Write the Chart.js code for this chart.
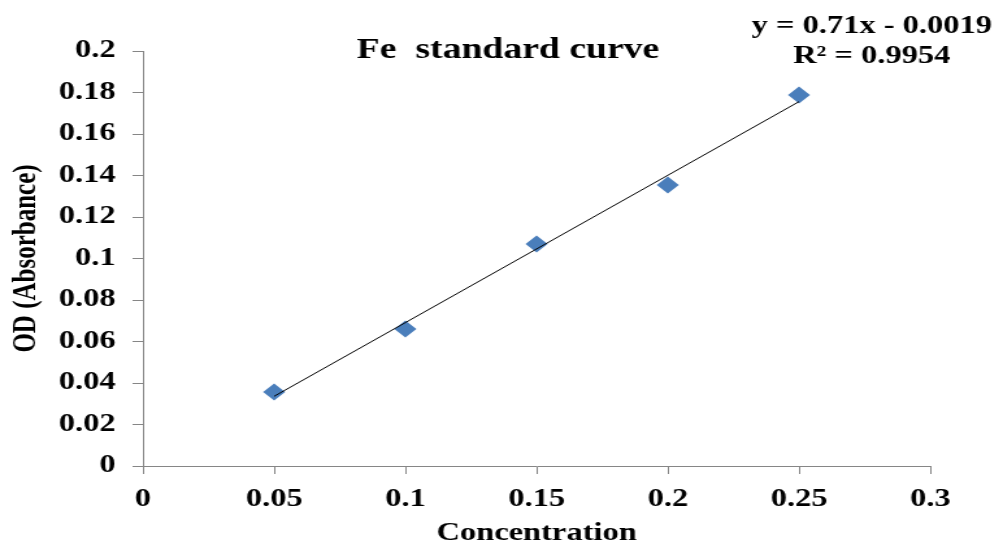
<!DOCTYPE html>
<html>
<head>
<meta charset="utf-8">
<script src="https://cdn.jsdelivr.net/npm/chart.js@4/dist/chart.umd.min.js"></script>
<style>
    html, body { margin: 0; padding: 0; background: #fff; overflow: hidden; }
    /* the original picture is stretched sideways, so draw narrow and widen it */
    #wrap { position: absolute; left: 0; top: 0; width: 772px; height: 545px; transform: scaleX(1.2992); transform-origin: 0 0; }
</style>
</head>
<body>
<div id="wrap"><canvas id="feChart"></canvas></div>
<script>
// Data
const concentration = [0.05, 0.1, 0.15, 0.2, 0.25];
const absorbance = [0.0357, 0.066, 0.107, 0.1354, 0.1788];
const xTicks = [0, 0.05, 0.1, 0.15, 0.2, 0.25, 0.3];
const xTickLabels = ['0', '0.05', '0.1', '0.15', '0.2', '0.25', '0.3'];
const yTicks = [0, 0.02, 0.04, 0.06, 0.08, 0.1, 0.12, 0.14, 0.16, 0.18, 0.2];
const yTickLabels = ['0', '0.02', '0.04', '0.06', '0.08', '0.1', '0.12', '0.14', '0.16', '0.18', '0.2'];

// Trendline as shown on the chart
const trendSlope = 0.71;
const trendIntercept = -0.0019;
const trendX = [0.05, 0.25];

const FONT = "'Liberation Serif', 'Times New Roman', serif";
const AXIS_GREY = '#868686';

document.addEventListener('DOMContentLoaded', function() {
    const trendPoints = trendX.map(x => ({ x: x, y: trendSlope * x + trendIntercept }));
    const points = concentration.map((x, i) => ({ x: x, y: absorbance[i] }));

    // Title and equation text
    const textPlugin = {
        id: 'textPlugin',
        afterDraw(chart) {
            const ctx = chart.ctx;
            ctx.save();
            ctx.fillStyle = '#000';
            ctx.textAlign = 'center';
            ctx.textBaseline = 'middle';
            ctx.font = 'bold 29px ' + FONT;
            ctx.fillText('Fe  standard curve', 391, 51);
            ctx.font = 'bold 25px ' + FONT;
            ctx.fillText('y = 0.71x - 0.0019', 671, 27);
            ctx.fillText('R² = 0.9954', 671, 57);
            ctx.restore();
        }
    };

    const ctx = document.getElementById('feChart').getContext('2d');
    new Chart(ctx, {
        type: 'scatter',
        data: {
            datasets: [{
                label: 'Linear',
                data: trendPoints,
                showLine: true,
                borderColor: '#000',
                borderWidth: 1,
                pointRadius: 0,
                order: 0
            }, {
                label: 'OD',
                data: points,
                pointStyle: 'rectRot',
                pointRadius: 8.5,
                pointBackgroundColor: '#4A7EBB',
                pointBorderColor: '#4A7EBB',
                pointBorderWidth: 0,
                order: 1
            }]
        },
        options: {
            responsive: true,
            maintainAspectRatio: false,
            animation: false,
            layout: {
                padding: { left: 0, top: 51, right: 56, bottom: 0 }
            },
            plugins: {
                legend: { display: false },
                tooltip: { enabled: false }
            },
            scales: {
                x: {
                    type: 'linear',
                    min: 0,
                    max: 0.3,
                    afterBuildTicks: scale => { scale.ticks = xTicks.map(v => ({ value: v })); },
                    afterFit: scale => { scale.height = 79; },
                    ticks: {
                        callback: (value, index) => xTickLabels[index],
                        color: '#000',
                        padding: 11,
                        maxRotation: 0,
                        font: { family: FONT, size: 25, weight: 'bold' }
                    },
                    grid: {
                        drawOnChartArea: false,
                        tickLength: 8,
                        color: AXIS_GREY
                    },
                    border: { color: AXIS_GREY, width: 1 },
                    title: {
                        display: true,
                        text: 'Concentration',
                        color: '#000',
                        padding: { top: 0, bottom: -4 },
                        font: { family: FONT, size: 25, weight: 'bold' }
                    }
                },
                y: {
                    min: 0,
                    max: 0.2,
                    afterBuildTicks: scale => { scale.ticks = yTicks.map(v => ({ value: v })); },
                    afterFit: scale => { scale.width = 110; },
                    ticks: {
                        callback: (value, index) => yTickLabels[index],
                        color: '#000',
                        padding: 13,
                        font: { family: FONT, size: 25, weight: 'bold' }
                    },
                    grid: {
                        drawOnChartArea: false,
                        tickLength: 8,
                        color: AXIS_GREY
                    },
                    border: { color: AXIS_GREY, width: 1 },
                    title: {
                        display: true,
                        text: 'OD (Absorbance)',
                        color: '#000',
                        padding: { top: 6, bottom: 0 },
                        font: { family: FONT, size: 25, weight: 'bold' }
                    }
                }
            }
        },
        plugins: [textPlugin]
    });
});
</script>
</body>
</html>
